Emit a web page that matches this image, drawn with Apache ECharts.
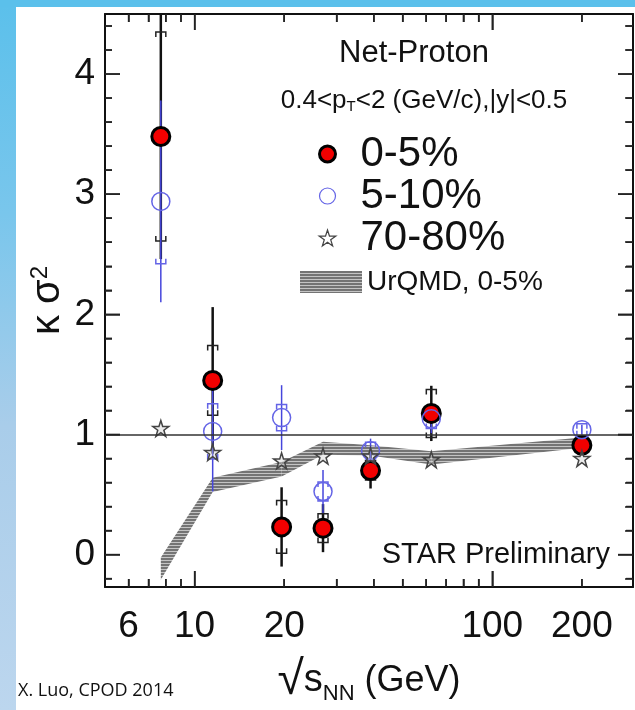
<!DOCTYPE html>
<html>
<head>
<meta charset="utf-8">
<script src="https://cdn.jsdelivr.net/npm/echarts@6/dist/echarts.min.js"></script>
<style>
html,body{margin:0;padding:0;background:#fff;width:635px;height:710px;overflow:hidden;}
#bgL{position:absolute;left:0;top:0;width:16px;height:710px;background:linear-gradient(#5bc0eb 0%,#79c6ec 30%,#a9cdea 60%,#bcd6ee 100%);}
#bgT{position:absolute;left:0;top:0;width:635px;height:7px;background:#5bc0eb;}
#chart{position:absolute;left:0;top:0;width:635px;height:710px;}
</style>
</head>
<body>
<div id="bgL"></div><div id="bgT"></div>
<div id="chart"></div>
<script>
// ---- data ----
const energies = [7.7, 11.5, 19.6, 27, 39, 62.4, 200];
const kappa0_5 = [3.48, 1.45, 0.23, 0.22, 0.70, 1.175, 0.91];
const stat0_5 = [1.02, 0.61, 0.33, 0.20, 0.15, 0.23, 0.05];
const sys0_5 = [0.87, 0.29, 0.22, 0.12, 0.08, 0.20, 0.04];
const kappa5_10 = [2.94, 1.025, 1.14, 0.525, 0.865, 1.13, 1.04];
const stat5_10 = [0.84, 0.50, 0.27, 0.18, 0.10, 0.12, 0.04];
const sys5_10 = [0.52, 0.23, 0.11, 0.08, 0.07, 0.08, 0.05];
const kappa70_80 = [1.05, 0.85, 0.78, 0.82, 0.82, 0.79, 0.80];
const urqmdLow = [-0.21, 0.52, 0.65, 0.83, 0.825, 0.75, 0.89];
const urqmdHigh = [-0.025, 0.64, 0.77, 0.94, 0.91, 0.86, 0.975];
const xLabelValues = [6, 10, 20, 100, 200];
const xMajorTicks = [10, 100];
const xMinorTicks = [6, 7, 8, 9, 20, 30, 40, 50, 60, 70, 80, 90, 200];
const yLabelValues = [0, 1, 2, 3, 4];
const yMinorTicks = [-0.2, 0.2, 0.4, 0.6, 0.8, 1.2, 1.4, 1.6, 1.8, 2.2, 2.4, 2.6, 2.8, 3.2, 3.4, 3.6, 3.8, 4.2, 4.4];
const seriesNames = ['0-5%', '5-10%', '70-80%', 'UrQMD, 0-5%'];

const FONT = 'Liberation Sans';
const RED = '#f20000', BLUE = '#6464e6', BLACK = '#111', TICK = '#222';

// hatched pattern for the UrQMD band
const pc = document.createElement('canvas');
pc.width = 4; pc.height = 3;
const pg = pc.getContext('2d');
pg.fillStyle = '#c4c4c4'; pg.fillRect(0, 0, 4, 3);
pg.fillStyle = '#747474'; pg.fillRect(0, 0, 4, 2);
const bandPattern = {image: pc, repeat: 'repeat'};

const starPath = 'path://M50,2 L61,36 L97,36 L68,57 L79,92 L50,71 L21,92 L32,57 L3,36 L39,36 Z';

function xAx(pos, ticks, len, withLabels, withLine) {
  const ax = {
    type: 'log', position: pos, min: 5, max: 297,
    axisLine: {show: withLine, onZero: false, lineStyle: {color: BLACK, width: 2}},
    axisTick: {show: true, inside: true, length: len, customValues: ticks, lineStyle: {color: TICK, width: 1.5}},
    axisLabel: {show: withLabels, customValues: xLabelValues, fontSize: 37, color: BLACK, fontFamily: FONT, margin: 21},
    splitLine: {show: false}
  };
  if (withLabels) {
    ax.name = '{r|√}{s|s}{n|NN}{g| (GeV)}';
    ax.nameLocation = 'middle';
    ax.nameGap = 70;
    ax.nameMoveOverlap = false;
    ax.nameTextStyle = {
      color: BLACK, fontFamily: FONT, fontSize: 36,
      rich: {
        r: {fontSize: 48, fontFamily: FONT, color: BLACK},
        s: {fontSize: 38, fontFamily: FONT, color: BLACK},
        n: {fontSize: 22, fontFamily: FONT, color: BLACK, verticalAlign: 'bottom', padding: [10, 0, 0, 0]},
        g: {fontSize: 36, fontFamily: FONT, color: BLACK}
      }
    };
  }
  return ax;
}
function yAx(pos, ticks, len, withLabels, withLine) {
  const ax = {
    type: 'value', position: pos, min: -0.27, max: 4.5,
    axisLine: {show: withLine, onZero: false, lineStyle: {color: BLACK, width: 2}},
    axisTick: {show: true, inside: true, length: len, customValues: ticks, lineStyle: {color: TICK, width: 1.5}},
    axisLabel: {show: withLabels, customValues: yLabelValues, fontSize: 37, color: BLACK, fontFamily: FONT, margin: 10},
    splitLine: {show: false}
  };
  if (withLabels) {
    ax.name = '{k|κ σ}{s|2}';
    ax.nameLocation = 'middle';
    ax.nameGap = 37;
    ax.nameRotate = 90;
    ax.nameMoveOverlap = false;
    ax.nameTextStyle = {
      color: BLACK, fontFamily: FONT, fontSize: 36,
      rich: {
        k: {fontSize: 40, fontFamily: FONT, color: BLACK},
        s: {fontSize: 24, fontFamily: FONT, color: BLACK, verticalAlign: 'top', padding: [0, 0, 14, 0]}
      }
    };
  }
  return ax;
}

function statSeries(name, vals, errs, color, width) {
  return {
    type: 'custom', name: name + ' stat', silent: true, clip: true,
    data: energies.map((e, i) => [e, vals[i], errs[i]]),
    encode: {x: 0, y: 1},
    renderItem: function (params, api) {
      const x = api.value(0), y = api.value(1), er = api.value(2);
      const a = api.coord([x, y + er]), b = api.coord([x, y - er]);
      return {type: 'line', shape: {x1: a[0], y1: a[1], x2: b[0], y2: b[1]}, style: {stroke: color, lineWidth: width}};
    }
  };
}
function sysSeries(name, vals, errs, color) {
  return {
    type: 'custom', name: name + ' sys', silent: true, clip: true,
    data: energies.map((e, i) => [e, vals[i], errs[i]]),
    encode: {x: 0, y: 1},
    renderItem: function (params, api) {
      const x = api.value(0), y = api.value(1), er = api.value(2);
      const t = api.coord([x, y + er]), b = api.coord([x, y - er]);
      const hw = 5, leg = 5;
      const st = {stroke: color, lineWidth: 1.5, fill: null};
      return {type: 'group', children: [
        {type: 'polyline', shape: {points: [[t[0] - hw, t[1] + leg], [t[0] - hw, t[1]], [t[0] + hw, t[1]], [t[0] + hw, t[1] + leg]]}, style: st},
        {type: 'polyline', shape: {points: [[b[0] - hw, b[1] - leg], [b[0] - hw, b[1]], [b[0] + hw, b[1]], [b[0] + hw, b[1] - leg]]}, style: st}
      ]};
    }
  };
}
// frame tick marks (mirrored on all four sides), placed through the axes' scales
function frameTickSeries(isX, values, len) {
  return {
    type: 'custom', silent: true, clip: false, z: 5,
    data: values.map(v => isX ? [v, 1] : [10, v]),
    encode: {x: 0, y: 1},
    renderItem: function (params, api) {
      const cs = params.coordSys;
      const p = api.coord([api.value(0), api.value(1)]);
      const st = {stroke: TICK, lineWidth: 1.5};
      if (isX) {
        const b = cs.y + cs.height, t = cs.y;
        return {type: 'group', children: [
          {type: 'line', shape: {x1: p[0], y1: b, x2: p[0], y2: b - len}, style: st},
          {type: 'line', shape: {x1: p[0], y1: t, x2: p[0], y2: t + len}, style: st}
        ]};
      }
      const l = cs.x, r = cs.x + cs.width;
      return {type: 'group', children: [
        {type: 'line', shape: {x1: l, y1: p[1], x2: l + len, y2: p[1]}, style: st},
        {type: 'line', shape: {x1: r, y1: p[1], x2: r - len, y2: p[1]}, style: st}
      ]};
    }
  };
}

const chart = echarts.init(document.getElementById('chart'), null, {renderer: 'canvas'});
const option = {
  animation: false,
  backgroundColor: 'transparent',
  grid: {left: 105, right: 2, top: 14, bottom: 123, show: false},
  xAxis: [
    xAx('bottom', xMinorTicks, 8, true, true),
    xAx('bottom', xMajorTicks, 16, false, false),
    xAx('top', xMinorTicks, 8, false, true),
    xAx('top', xMajorTicks, 16, false, false)
  ],
  yAxis: [
    yAx('left', yLabelValues, 15, true, true),
    yAx('left', yMinorTicks, 7, false, false),
    yAx('right', yLabelValues, 15, false, true),
    yAx('right', yMinorTicks, 8, false, false)
  ],
  legend: [
    {
      data: [
        {name: seriesNames[0], icon: 'circle', itemStyle: {color: RED, borderColor: '#000', borderWidth: 3}},
        {name: seriesNames[1], icon: 'circle', itemStyle: {color: 'rgba(255,255,255,0)', borderColor: BLUE, borderWidth: 1.2}},
        {name: seriesNames[2], icon: starPath, itemStyle: {color: 'rgba(255,255,255,0)', borderColor: '#444', borderWidth: 1.2}}
      ],
      orient: 'vertical', left: 313, top: 128, itemGap: 0,
      itemWidth: 56, itemHeight: 16, selectedMode: false,
      textStyle: {fontSize: 42, fontFamily: FONT, color: BLACK, lineHeight: 40}
    },
    {
      data: [{name: seriesNames[3], icon: 'rect', itemStyle: {color: bandPattern, borderWidth: 0}}],
      left: 295, top: 263, itemWidth: 62, itemHeight: 22, selectedMode: false,
      textStyle: {fontSize: 28, fontFamily: FONT, color: BLACK}
    }
  ],
  graphic: [
    {type: 'text', x: 414, y: 53, silent: true, style: {text: 'Net-Proton', font: '31px "Liberation Sans"', fill: BLACK, textAlign: 'center', textVerticalAlign: 'middle'}},
    {type: 'text', x: 424, y: 101, silent: true, style: {
      text: '0.4<p{sub|T}<2 (GeV/c),|y|<0.5', font: '26px "Liberation Sans"', fill: BLACK, textAlign: 'center', textVerticalAlign: 'middle',
      rich: {sub: {fontSize: 15, fontFamily: FONT, fill: BLACK, verticalAlign: 'bottom', padding: [12, 0, 0, 0]}}
    }},
    {type: 'text', x: 610, y: 555, silent: true, style: {text: 'STAR Preliminary', font: '29px "Liberation Sans"', fill: BLACK, textAlign: 'right', textVerticalAlign: 'middle'}},
    {type: 'text', x: 18, y: 691, silent: true, style: {text: 'X. Luo, CPOD 2014', font: '18px "Open Sans"', fill: BLACK, textAlign: 'left', textVerticalAlign: 'middle'}}
  ],
  series: [
    {
      type: 'custom', name: seriesNames[3], silent: true, clip: true,
      itemStyle: {color: bandPattern},
      data: energies.map((e, i) => [e, urqmdLow[i], urqmdHigh[i]]),
      encode: {x: 0, y: [1, 2]},
      renderItem: function (params, api) {
        const i = params.dataIndexInside;
        if (i >= params.dataInsideLength - 1) return {type: 'group', children: []};
        const x0 = api.value(0, i), x1 = api.value(0, i + 1);
        const pts = [
          api.coord([x0, api.value(1, i)]), api.coord([x1, api.value(1, i + 1)]),
          api.coord([x1, api.value(2, i + 1)]), api.coord([x0, api.value(2, i)])
        ];
        return {type: 'polygon', shape: {points: pts}, style: {fill: bandPattern, stroke: null}};
      },
      markLine: {
        silent: true, symbol: ['none', 'none'], label: {show: false},
        lineStyle: {color: '#333', width: 1.5, type: 'solid'},
        data: [{yAxis: 1}]
      }
    },
    statSeries(seriesNames[0], kappa0_5, stat0_5, BLACK, 2.5),
    sysSeries(seriesNames[0], kappa0_5, sys0_5, '#222'),
    {
      type: 'scatter', name: seriesNames[0], symbol: 'circle', symbolSize: 18, z: 3,
      itemStyle: {color: RED, borderColor: '#000', borderWidth: 3, opacity: 1},
      data: energies.map((e, i) => [e, kappa0_5[i]])
    },
    statSeries(seriesNames[1], kappa5_10, stat5_10, '#4646dc', 1.5),
    sysSeries(seriesNames[1], kappa5_10, sys5_10, BLUE),
    {
      type: 'scatter', name: seriesNames[1], symbol: 'circle', symbolSize: 18, z: 3,
      itemStyle: {color: 'rgba(255,255,255,0)', borderColor: BLUE, borderWidth: 1.5, opacity: 1},
      data: energies.map((e, i) => [e, kappa5_10[i]])
    },
    {
      type: 'scatter', name: seriesNames[2], symbol: starPath, symbolSize: 16, z: 3,
      itemStyle: {color: 'rgba(200,200,200,0.35)', borderColor: '#444', borderWidth: 1.5, opacity: 1},
      data: energies.map((e, i) => [e, kappa70_80[i]])
    },
    frameTickSeries(true, xMinorTicks, 8),
    frameTickSeries(true, xMajorTicks, 16),
    frameTickSeries(false, yMinorTicks, 7),
    frameTickSeries(false, yLabelValues, 15)
  ]
};
chart.setOption(option);
</script>
</body>
</html>
